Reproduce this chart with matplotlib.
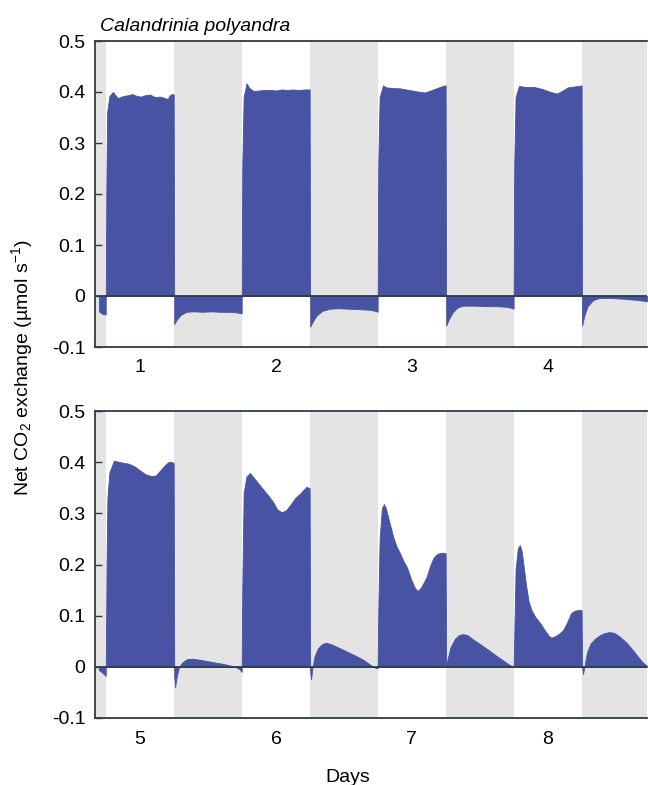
import numpy as np
import matplotlib
matplotlib.use('Agg')
import matplotlib.pyplot as plt

plt.rcParams['font.family'] = ['Liberation Sans', 'DejaVu Sans']
plt.rcParams['mathtext.fontset'] = 'custom'
plt.rcParams['mathtext.rm'] = 'Liberation Sans'
plt.rcParams['mathtext.it'] = 'Liberation Sans:italic'

# tempo em horas (0 = início do primeiro período de luz), fluxo em umol s-1
horas_topo = [-1.25, -0.8, -0.3, -0.05,
              0.05, 0.2, 0.6, 1.2, 2.1, 3.0, 4.0, 4.6, 5.5, 6.2, 7.0, 7.8, 8.6, 9.5, 10.2, 10.9, 11.2, 11.6, 11.95,
              12.05, 12.5, 13.2, 14.2, 15.5, 17.0, 18.5, 20.0, 21.5, 23.0, 23.95,
              24.05, 24.3, 24.8, 25.3, 26.0, 27.0, 28.0, 29.0, 30.0, 31.0, 32.0, 33.0, 34.0, 35.0, 35.95,
              36.05, 36.5, 37.2, 38.2, 39.5, 41.0, 43.0, 45.0, 46.5, 47.5, 47.95,
              48.05, 48.3, 48.9, 49.5, 50.5, 52.0, 53.5, 55.0, 56.3, 57.3, 58.5, 59.5, 59.95,
              60.05, 60.5, 61.2, 62.0, 63.0, 65.0, 67.0, 69.0, 70.5, 71.5, 71.95,
              72.05, 72.3, 72.9, 74.0, 75.5, 77.0, 78.5, 79.6, 80.5, 81.5, 82.8, 83.95,
              84.05, 84.4, 85.0, 86.0, 87.0, 89.0, 91.0, 93.0, 95.5]
fluxo_topo = [-0.030, -0.034, -0.036, -0.036,
              0.20, 0.36, 0.392, 0.400, 0.388, 0.392, 0.394, 0.396, 0.392, 0.391, 0.394, 0.395, 0.390, 0.391, 0.389, 0.386, 0.393, 0.396, 0.395,
              -0.055, -0.046, -0.037, -0.031, -0.030, -0.031, -0.030, -0.031, -0.031, -0.032, -0.034,
              0.25, 0.39, 0.417, 0.408, 0.402, 0.403, 0.404, 0.404, 0.403, 0.405, 0.404, 0.405, 0.404, 0.405, 0.405,
              -0.060, -0.050, -0.038, -0.029, -0.025, -0.024, -0.025, -0.026, -0.027, -0.029, -0.031,
              0.25, 0.39, 0.413, 0.409, 0.408, 0.407, 0.404, 0.401, 0.399, 0.403, 0.408, 0.412, 0.413,
              -0.058, -0.046, -0.032, -0.023, -0.019, -0.019, -0.020, -0.020, -0.021, -0.023, -0.025,
              0.25, 0.39, 0.412, 0.410, 0.410, 0.406, 0.400, 0.397, 0.402, 0.409, 0.411, 0.413,
              -0.058, -0.040, -0.020, -0.008, -0.004, -0.004, -0.005, -0.007, -0.010]

horas_base = [-1.25, -0.8, -0.3, -0.05,
              0.1, 0.25, 0.6, 1.4, 2.5, 4.0, 5.0, 6.0, 7.0, 8.0, 8.8, 9.5, 10.3, 11.0, 11.5, 11.95,
              12.05, 12.2, 12.5, 12.9, 13.5, 14.3, 15.2, 16.5, 18.0, 19.5, 20.6, 21.8, 22.8, 23.5, 23.95,
              24.05, 24.3, 24.8, 25.4, 26.2, 27.0, 27.8, 28.7, 29.5, 30.2, 31.0, 31.8, 32.5, 33.4, 34.2, 34.8, 35.4, 35.95,
              36.05, 36.2, 36.4, 36.8, 37.4, 38.2, 38.9, 39.8, 41.0, 42.5, 44.0, 45.4, 46.4, 47.2, 47.6, 47.95,
              48.05, 48.3, 48.7, 49.06, 49.4, 50.0, 50.7, 51.3, 51.9, 52.5, 53.1, 53.9, 54.5, 55.0, 55.6, 56.1, 56.6, 57.2, 57.8, 58.5, 59.3, 59.95,
              60.05, 60.3, 60.8, 61.6, 62.3, 63.0, 63.8, 65.0, 66.5, 68.0, 69.5, 70.8, 71.8, 71.95,
              72.05, 72.3, 72.7, 73.06, 73.4, 73.8, 74.2, 74.6, 75.1, 75.8, 76.6, 77.5, 78.2, 78.65, 79.3, 80.0, 80.7, 81.4, 82.1, 82.8, 83.5, 83.95,
              84.05, 84.2, 84.45, 84.9, 85.5, 86.3, 87.2, 88.0, 88.9, 89.8, 90.8, 91.9, 92.9, 93.9, 94.8, 95.5]
fluxo_base = [-0.006, -0.010, -0.015, -0.018,
              0.20, 0.33, 0.38, 0.403, 0.400, 0.397, 0.392, 0.384, 0.376, 0.373, 0.374, 0.383, 0.393, 0.400, 0.401, 0.398,
              -0.020, -0.040, -0.018, 0.0, 0.009, 0.015, 0.016, 0.014, 0.011, 0.008, 0.006, 0.003, 0.0, -0.004, -0.010,
              0.15, 0.34, 0.372, 0.379, 0.368, 0.357, 0.346, 0.334, 0.322, 0.308, 0.302, 0.306, 0.316, 0.330, 0.338, 0.345, 0.352, 0.349,
              -0.010, -0.024, -0.005, 0.020, 0.036, 0.045, 0.047, 0.044, 0.038, 0.030, 0.022, 0.014, 0.006, 0.0, -0.002, -0.003,
              0.10, 0.25, 0.31, 0.318, 0.310, 0.284, 0.254, 0.235, 0.222, 0.207, 0.195, 0.170, 0.155, 0.148, 0.155, 0.165, 0.176, 0.197, 0.213, 0.221, 0.223, 0.222,
              0.0, 0.015, 0.038, 0.055, 0.062, 0.064, 0.062, 0.052, 0.041, 0.029, 0.017, 0.007, 0.0, 0.0,
              0.05, 0.19, 0.232, 0.238, 0.225, 0.190, 0.156, 0.128, 0.111, 0.097, 0.086, 0.071, 0.060, 0.057, 0.060, 0.065, 0.072, 0.087, 0.105, 0.110, 0.111, 0.111,
              0.0, -0.014, 0.0, 0.028, 0.045, 0.055, 0.062, 0.066, 0.068, 0.066, 0.058, 0.047, 0.034, 0.020, 0.008, 0.002]

# períodos de escuro (horas)
escuro_inicio = [-24, 12, 36, 60, 84]
escuro_fim = [0, 24, 48, 72, 96]

ticks_dias = [6, 30, 54, 78]
rotulos_topo = ['1', '2', '3', '4']
rotulos_base = ['5', '6', '7', '8']
ticks_y = [-0.1, 0, 0.1, 0.2, 0.3, 0.4, 0.5]
rotulos_y = ['-0.1', '0', '0.1', '0.2', '0.3', '0.4', '0.5']

azul = '#4853a3'
cinza = '#e4e4e4'
eixo = '#2e3d45'

fig = plt.figure(figsize=(6.48, 7.85), dpi=100)
ax_topo = fig.add_axes([95/648, 1 - 347/785, 552/648, 306/785])
ax_base = fig.add_axes([95/648, 1 - 718/785, 552/648, 307/785])

for ax, horas, fluxo, rotulos in [(ax_topo, horas_topo, fluxo_topo, rotulos_topo),
                                  (ax_base, horas_base, fluxo_base, rotulos_base)]:
    for ini, fim in zip(escuro_inicio, escuro_fim):
        ax.axvspan(ini, fim, color=cinza, lw=0, zorder=0)
    h = np.array(horas)
    f = np.array(fluxo)
    ax.fill_between(h, f, 0, color=azul, lw=0.6, edgecolor=azul, interpolate=True, zorder=2)
    ax.axhline(0, color=eixo, lw=1.3, zorder=3)
    ax.set_xlim(-1.94, 95.5)
    ax.set_ylim(-0.1, 0.5)
    ax.set_yticks(ticks_y)
    ax.set_yticklabels(rotulos_y)
    ax.set_xticks(ticks_dias)
    ax.set_xticklabels(rotulos)
    ax.tick_params(axis='y', direction='in', length=5, width=1, color=eixo, labelsize=14, pad=7)
    ax.tick_params(axis='x', length=0, labelsize=14, pad=9)
    for lado in ['left', 'top', 'bottom']:
        ax.spines[lado].set_color(eixo)
        ax.spines[lado].set_linewidth(1.3)
        ax.spines[lado].set_zorder(4)
    ax.spines['right'].set_visible(False)

fig.text(100/648, 1 - 31/785, 'Calandrinia polyandra', fontsize=14, style='italic', ha='left', va='baseline')
fig.text(22/648, 1 - 368/785, 'Net CO$_2$ exchange (µmol s$^{-1}$)', fontsize=14, rotation=90, ha='center', va='center')
fig.text(348/648, 1 - 782/785, 'Days', fontsize=14, ha='center', va='baseline')

fig.savefig('out.png', dpi=100)
